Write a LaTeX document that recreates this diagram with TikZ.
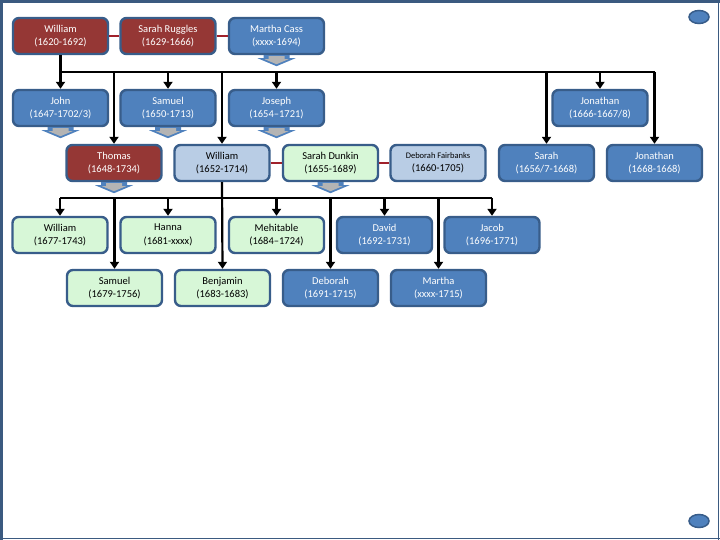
\documentclass[tikz,border=0pt]{standalone}
\usepackage{fontspec}
\setmainfont{Carlito}
\usepackage{xcolor}
\usetikzlibrary{arrows.meta}

\definecolor{framecol}{HTML}{3B5A80}
\definecolor{boxline}{HTML}{385D8A}
\definecolor{boxred}{HTML}{953735}
\definecolor{boxblue}{HTML}{4F81BD}
\definecolor{boxpale}{HTML}{B9CDE5}
\definecolor{boxgreen}{HTML}{D7F7D7}
\definecolor{linkred}{HTML}{A0212B}
\definecolor{chevgray}{HTML}{B4B4B4}

\tikzset{
  person/.style={draw=boxline, line width=2.4pt, rounded corners=6pt,
    minimum width=95pt, minimum height=36pt, inner sep=1pt, align=center,
    font=\fontsize{10.5}{13.5}\selectfont, execute at begin node=\vphantom{Hl}},
  redp/.style={person, fill=boxred, text=white},
  bluep/.style={person, fill=boxblue, text=white},
  palep/.style={person, fill=boxpale},
  greenp/.style={person, fill=boxgreen},
  kid/.style={line width=2.2pt, -{Triangle[width=9pt,length=7pt]}},
  bus/.style={line width=2.2pt},
  wed/.style={line width=2.4pt, draw=linkred},
  chev/.pic={
    \fill[boxblue] (-13,0) -- (13,0) -- (13,3) -- (19,3) -- (0,11)
      -- (-19,3) -- (-13,3) -- cycle;
    \fill[chevgray] (-8,1) -- (8,1) -- (8,4) -- (12,4) -- (0,9)
      -- (-12,4) -- (-8,4) -- cycle;
  }
}

\begin{document}
\begin{tikzpicture}[x=1pt,y=-1pt]
    \useasboundingbox (0,0) rectangle (720,540);
    \fill[white] (0,0) rectangle (720,540);
    % slide frame
    \draw[framecol, line width=3pt] (0,1.5) -- (720,1.5);
    \draw[framecol, line width=3pt] (1.5,0) -- (1.5,540);
    \draw[framecol, line width=1.5pt] (718.5,0) -- (718.5,540);
    \draw[framecol, line width=1.5pt] (0,538.5) -- (720,538.5);
    \filldraw[boxblue, draw=boxline, line width=1.5pt] (699,17) ellipse (10 and 6.5);
    \filldraw[boxblue, draw=boxline, line width=1.5pt] (699,521) ellipse (10 and 6.5);

    % first generation
    \node[redp] (wil) at (60.5,36) {William\\(1620-1692)};
    \node[redp] (sarr) at (168,36) {Sarah Ruggles\\(1629-1666)};
    \node[bluep] (mcass) at (276.5,36) {Martha Cass\\(xxxx-1694)};

    % second generation
    \node[bluep] (john) at (60.5,108) {John\\(1647-1702/3)};
    \node[bluep] (samuel) at (168,108) {Samuel\\(1650-1713)};
    \node[bluep] (joseph) at (276.5,108) {Joseph\\(1654--1721)};
    \node[bluep] (jon) at (600,108) {Jonathan\\(1666-1667/8)};
    \node[redp] (thomas) at (114,163) {Thomas\\(1648-1734)};
    \node[palep] (will) at (222,163) {William\\(1652-1714)};
    \node[greenp] (sdunkin) at (330.5,163) {Sarah Dunkin\\(1655-1689)};
    \node[palep] (dfair) at (438,163) {{\fontsize{8.5}{13.5}\selectfont Deborah Fairbanks}\\(1660-1705)};
    \node[bluep] (sarah) at (546.5,163) {Sarah\\(1656/7-1668)};
    \node[bluep] (jonb) at (654.5,163) {Jonathan\\(1668-1668)};

    % third generation
    \node[greenp] (wilc) at (60,235) {William\\(1677-1743)};
    \node[greenp] (hanna) at (168,235) {Hanna\\(1681-xxxx)};
    \node[greenp] (mehit) at (276.5,235) {Mehitable\\(1684--1724)};
    \node[bluep] (david) at (384.5,235) {David\\(1692-1731)};
    \node[bluep] (jacob) at (492,235) {Jacob\\(1696-1771)};
    \node[greenp] (samc) at (114.5,288) {Samuel\\(1679-1756)};
    \node[greenp] (benj) at (222.5,288) {Benjamin\\(1683-1683)};
    \node[bluep] (deb) at (330.5,288) {Deborah\\(1691-1715)};
    \node[bluep] (martha) at (438.5,288) {Martha\\(xxxx-1715)};

    % marriages
    \draw[wed] (wil.east) -- (sarr.west);
    \draw[wed] (sarr.east) -- (mcass.west);
    \draw[wed] (will.east) -- (sdunkin.west);
    \draw[wed] (sdunkin.east) -- (dfair.west);

    \pic at (mcass.south) {chev};
    \pic at (john.south) {chev};
    \pic at (samuel.south) {chev};
    \pic at (joseph.south) {chev};
    \pic at (thomas.south) {chev};
    \pic at (sdunkin.south) {chev};

    % children of William and his wives
    \coordinate (b1l) at (60.5,72);
    \coordinate (b1r) at (654.5,72);
    \draw[bus] (b1l) -- (b1r);
    \draw[kid] (wil.south) -- (john.north);
    \draw[kid] (samuel.north |- b1l) -- (samuel.north);
    \draw[kid] (joseph.north |- b1l) -- (joseph.north);
    \draw[kid] (jon.north |- b1l) -- (jon.north);
    \draw[kid] (thomas.north |- b1l) -- (thomas.north);
    \draw[kid] (will.north |- b1l) -- (will.north);
    \draw[kid] (sarah.north |- b1l) -- (sarah.north);
    \draw[kid] (jonb.north |- b1l) -- (jonb.north);

    % children of William (1652) and his wives
    \coordinate (b2l) at (60,198);
    \coordinate (b2r) at (492,198);
    \draw[bus] (b2l) -- (b2r);
    \draw[kid] (will.south) -- (benj.north);
    \draw[kid] (wilc.north |- b2l) -- (wilc.north);
    \draw[kid] (hanna.north |- b2l) -- (hanna.north);
    \draw[kid] (mehit.north |- b2l) -- (mehit.north);
    \draw[kid] (david.north |- b2l) -- (david.north);
    \draw[kid] (jacob.north |- b2l) -- (jacob.north);
    \draw[kid] (samc.north |- b2l) -- (samc.north);
    \draw[kid] (deb.north |- b2l) -- (deb.north);
    \draw[kid] (martha.north |- b2l) -- (martha.north);
\end{tikzpicture}
\end{document}
